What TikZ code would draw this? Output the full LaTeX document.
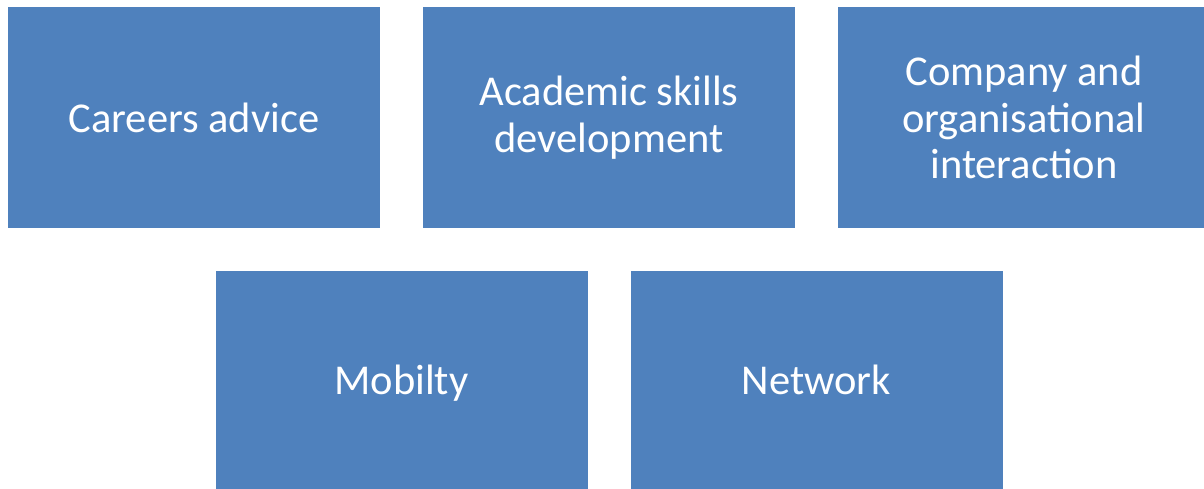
\documentclass[tikz,border=0pt]{standalone}
\usepackage{fontspec}
\setmainfont{Carlito}
\definecolor{boxblue}{HTML}{4F81BD}
\newcommand{\lowstrut}{\rule[-14pt]{0pt}{54.6pt}}
\begin{document}
\begin{tikzpicture}[x=1pt,y=1pt,
  card/.style={fill=boxblue, draw=none, minimum width=372pt, minimum height=221pt,
    inner sep=0pt, text=white, align=center,
    font=\fontsize{42.5}{46.5}\selectfont}]
\clip (0,0) rectangle (1204,-489);
\useasboundingbox (0,0) rectangle (1204,-489);
\node[card] (careers) at (194,-117.5) {Careers advice};
\node[card] (academic) at (609,-117.5) {Academic skills\\development};
\node[card] (company) at (1024,-117.5) {Company and\\organisational\\interaction};
\node[card] (mobility) at (401.5,-381.5) {\lowstrut Mobilty};
\node[card] (network) at (816.5,-381.5) {\lowstrut Network};
\end{tikzpicture}
\end{document}
